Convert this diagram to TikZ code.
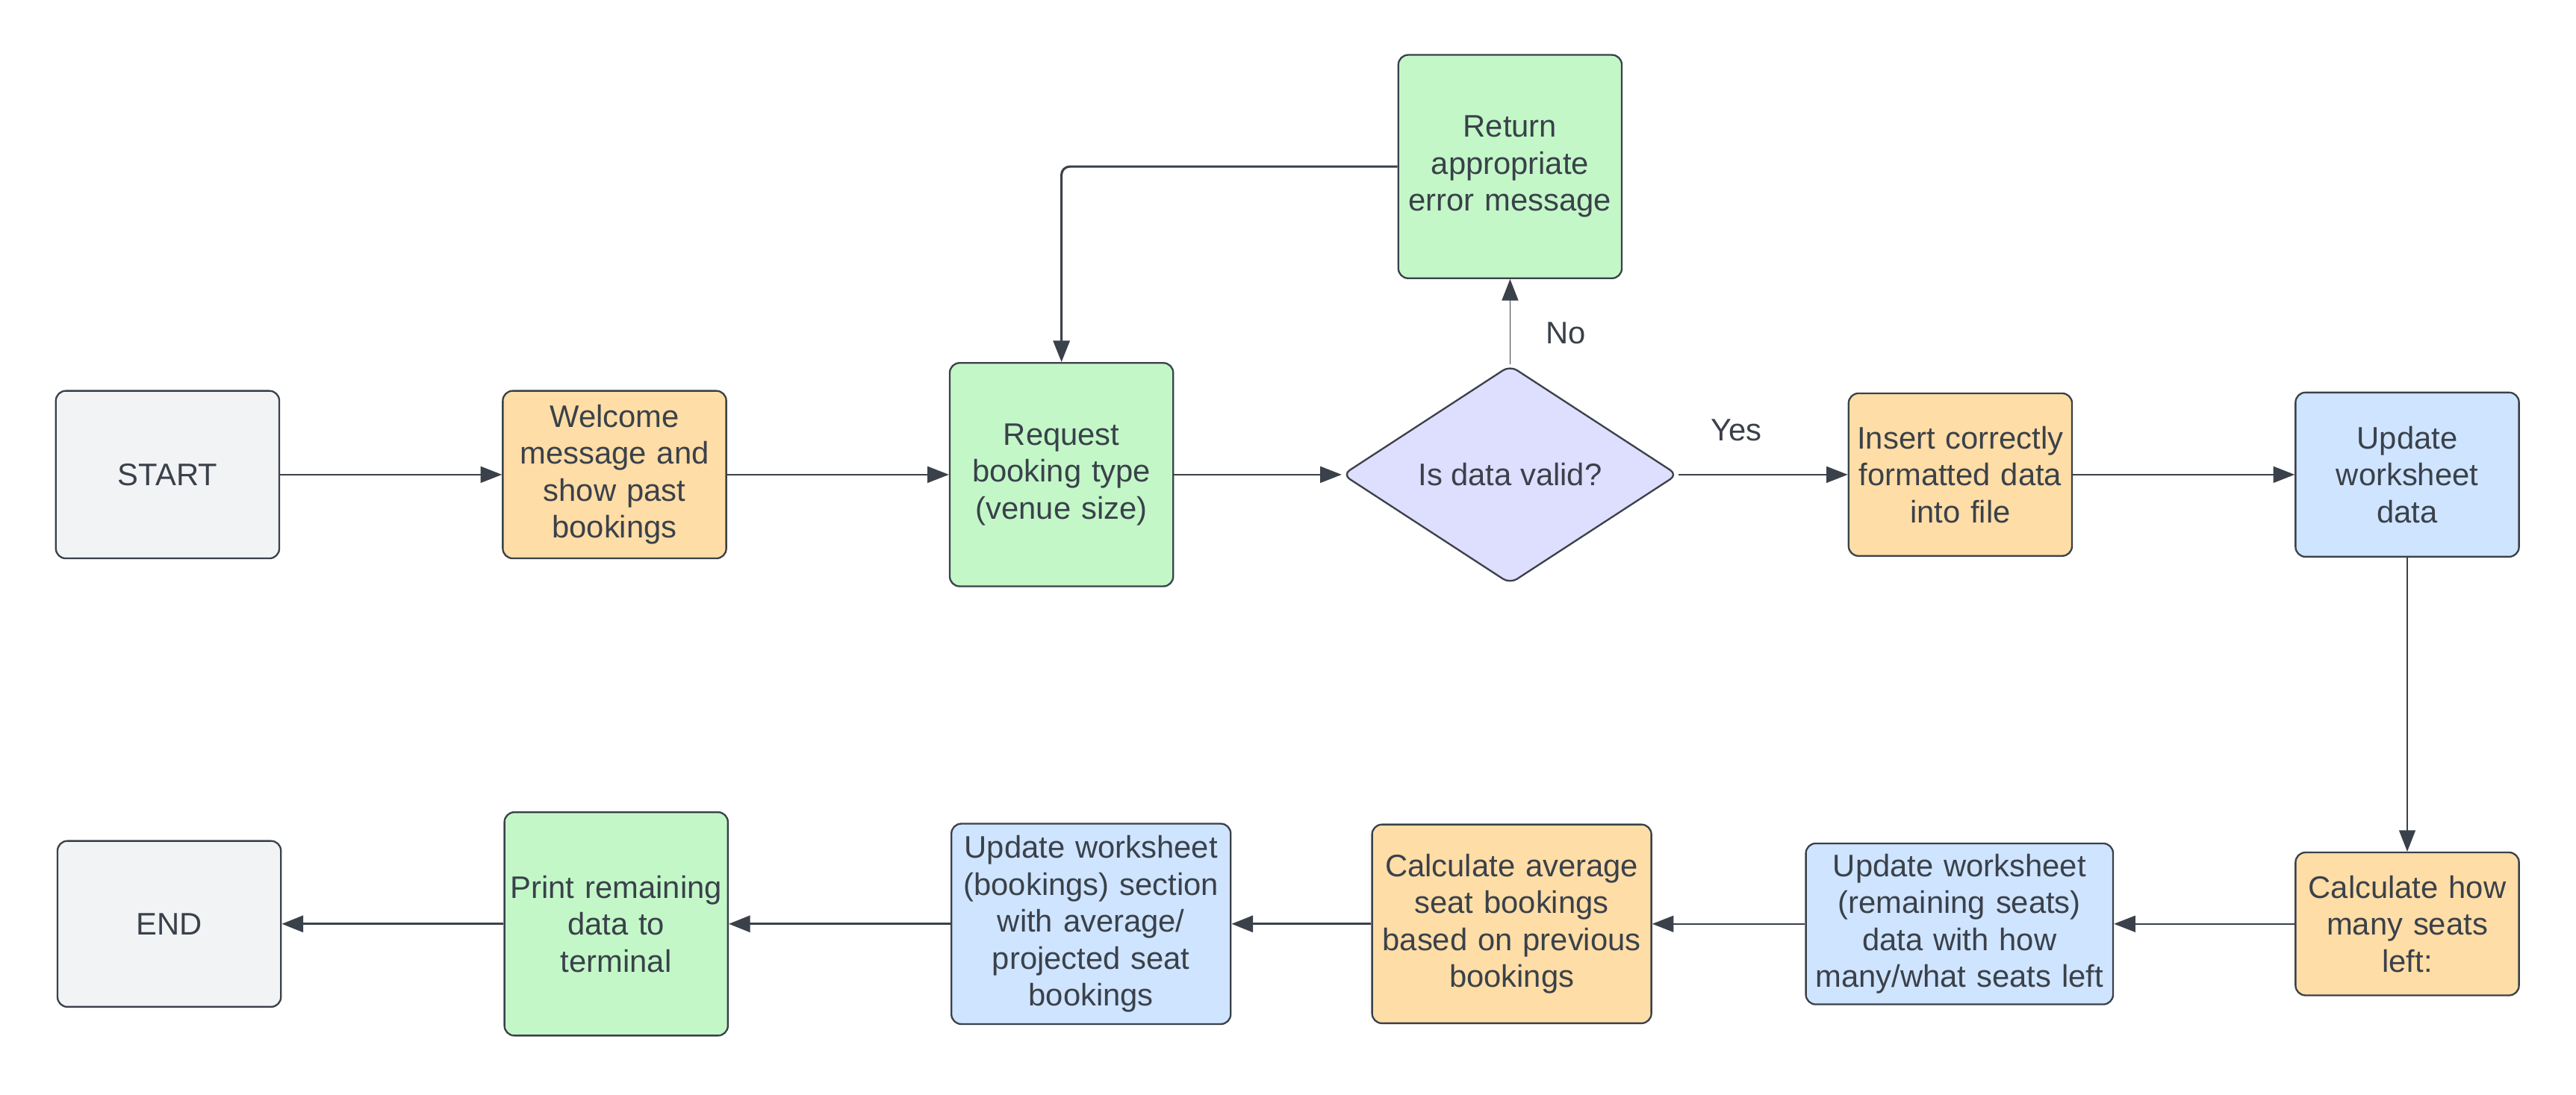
\documentclass[tikz,border=0pt]{standalone}
\usepackage{fontspec}
\setmainfont{Liberation Sans}
\usepackage{tikz}
\usetikzlibrary{shapes,positioning,arrows.meta}

\definecolor{lineC}{HTML}{3A414A}
\definecolor{greyF}{HTML}{F2F3F5}
\definecolor{orangeF}{HTML}{FFDDA6}
\definecolor{greenF}{HTML}{C3F7C8}
\definecolor{blueF}{HTML}{CFE4FF}
\definecolor{purpleF}{HTML}{DEDEFF}

\begin{document}
\begin{tikzpicture}
  [font=\fontsize{10.8}{12.8}\selectfont, text=lineC,
   boxN/.style={draw=lineC,line width=0.6pt,rounded corners=1.2mm,align=center,
                inner xsep=0pt,text width=2.72cm},
   decN/.style={diamond,draw=lineC,line width=0.6pt,rounded corners=1mm,fill=purpleF,
                aspect=1.5,inner sep=0pt,minimum width=4.08cm,minimum height=2.66cm},
   thinA/.style={draw=lineC,line width=0.4pt,-{Triangle[length=0.26cm,width=0.2cm]}},
   thickA/.style={draw=lineC,line width=0.8pt,-{Triangle[length=0.26cm,width=0.2cm]}},
   labelN/.style={inner sep=1pt},
   node distance=2.7cm]

  \useasboundingbox (0,0) rectangle (31.36,-13.326);

  \node[boxN,fill=greyF,minimum height=2.04cm]   (start) at (2.04,-5.78) {START};
  \node[boxN,fill=orangeF,minimum height=2.04cm] (welc)  [right=of start]
    {Welcome\\message and\\show past\\bookings};
  \node[boxN,fill=greenF,minimum height=2.72cm]  (req)   [right=of welc]
    {Request\\booking type\\(venue size)};
  \node[decN]                                    (dec)   [right=2.04cm of req] {Is data valid?};
  \node[boxN,fill=greenF,minimum height=2.72cm]  (ret)   [above=1.04cm of dec]
    {Return\\appropriate\\error message\\[2.2em]};
  \node[boxN,fill=orangeF,minimum height=1.98cm] (ins)   [right=2.06cm of dec]
    {Insert correctly\\formatted data\\into file};
  \node[boxN,fill=blueF,minimum height=2.0cm]    (upd)   [right=of ins]
    {Update\\worksheet\\data};

  \node[boxN,fill=orangeF,minimum height=1.74cm] (calcH) [below=3.58cm of upd]
    {Calculate how\\many seats\\left:};
  \node[boxN,fill=blueF,minimum height=1.96cm,text width=3.74cm] (updR) [left=2.2cm of calcH]
    {Update worksheet\\(remaining seats)\\data with how\\many/what seats left};
  \node[boxN,fill=orangeF,minimum height=2.42cm,text width=3.4cm] (calcA) [left=1.86cm of updR]
    {Calculate average\\seat bookings\\based on previous\\bookings};
  \node[boxN,fill=blueF,minimum height=2.44cm,text width=3.4cm]   (updB)  [left=1.7cm of calcA]
    {Update worksheet\\(bookings) section\\with average/\\projected seat\\bookings};
  \node[boxN,fill=greenF,minimum height=2.72cm]  (print) [left=of updB]
    {Print remaining\\data to\\terminal};
  \node[boxN,fill=greyF,minimum height=2.02cm]   (end)   [left=of print] {END};

  \draw[thinA] (start) -- (welc);
  \draw[thinA] (welc) -- (req);
  \draw[thinA] (req) -- (dec);
  \draw[thinA] (dec) -- node[labelN,pos=0.34,yshift=0.54cm] (yes) {Yes} (ins);
  \draw[thinA] (dec) -- node[labelN,pos=0.37,xshift=0.68cm] (no) {No} (ret);
  \draw[thickA,rounded corners=1mm] (ret.west) -| (req.north);
  \draw[thinA] (ins) -- (upd);
  \draw[thinA] (upd) -- (calcH);
  \draw[thinA] (calcH) -- (updR);
  \draw[thinA] (updR) -- (calcA);
  \draw[thickA] (calcA) -- (updB);
  \draw[thickA] (updB) -- (print);
  \draw[thickA] (print) -- (end);

\end{tikzpicture}
\end{document}
